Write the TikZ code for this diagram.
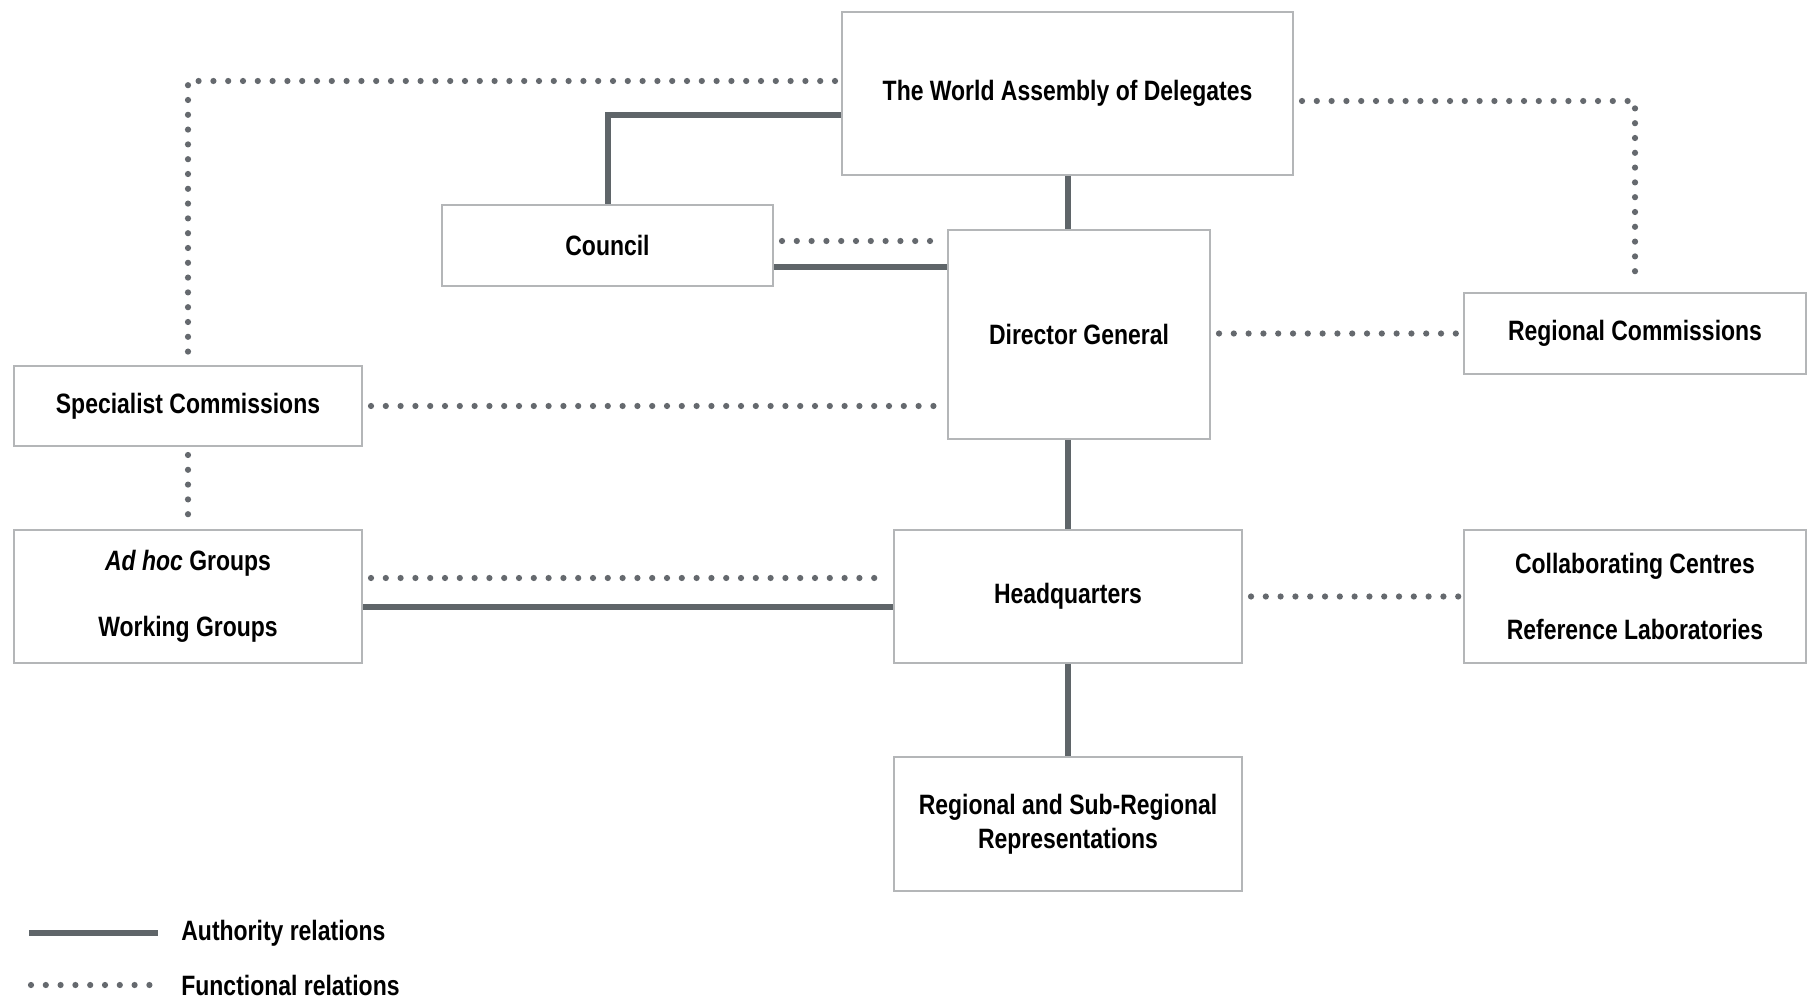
\documentclass[tikz,border=0pt]{standalone}
\usepackage{fontspec}
\setmainfont{Liberation Sans}[FakeStretch=0.82]
\definecolor{linegray}{HTML}{5F6569}
\definecolor{dotgray}{HTML}{65696E}
\definecolor{boxgray}{HTML}{B4B6B8}

\begin{document}
\begin{tikzpicture}[x=0.5pt,y=-0.5pt,
  box/.style={draw=boxgray,line width=1pt,fill=white,inner sep=0pt,align=center,
    font=\fontsize{14pt}{16.8pt}\selectfont\bfseries},
  auth/.style={draw=linegray,line width=3pt},
  func/.style={draw=dotgray,line width=3.1pt,line cap=round,dash pattern=on 0pt off 7.4pt},
  legend/.style={anchor=west,inner sep=0pt,font=\fontsize{14pt}{16.8pt}\selectfont\bfseries}]
\useasboundingbox[fill=white] (0,0) rectangle (1807,999);

\node[box,minimum width=225.5pt,minimum height=81.5pt] (wad) at (1067.5,93.5) {The World Assembly of Delegates};
\node[box,minimum width=165.5pt,minimum height=40.5pt] (council) at (607.5,245.5) {Council};
\node[box,minimum width=131pt,minimum height=104.5pt] (dg) at (1079,334.5) {Director General};
\node[box,minimum width=171pt,minimum height=40.5pt] (regcom) at (1635,333.5) {Regional Commissions};
\node[box,minimum width=174pt,minimum height=40pt] (spec) at (188,406) {Specialist Commissions};
\node[box,minimum width=174pt,minimum height=66.5pt] (adhoc) at (188,596.5) {\textit{Ad hoc} Groups\\[16pt]Working Groups};
\node[box,minimum width=174pt,minimum height=66.5pt] (hq) at (1068,596.5) {Headquarters};
\node[box,minimum width=171pt,minimum height=66.5pt] (collab) at (1635,596.5) {Collaborating Centres\\[16pt]Reference Laboratories};
\node[box,minimum width=174pt,minimum height=67pt] (regrep) at (1068,824) {Regional and Sub-Regional\\Representations};

% authority relations
\draw[auth] ([yshift=-10.75pt]wad.west) -| (council.north);
\draw[auth] (wad.south) -- (wad.south |- dg.north);
\draw[auth] ([yshift=-10.75pt]council.east) coordinate (c2) -- (c2 -| dg.west);
\draw[auth] (hq.north |- dg.south) -- (hq.north);
\draw[auth] ([yshift=-5.25pt]adhoc.east) coordinate (a2) -- (a2 -| hq.west);
\draw[auth] (hq.south) -- (regrep.north);

% functional relations
\draw[func,shorten >=4pt] ([yshift=6.25pt,xshift=-3pt]wad.west) -| (spec.north);
\draw[func,shorten <=4pt,shorten >=4pt] ([yshift=-3.75pt]wad.east) -| (regcom.north);
\draw[func,shorten <=4pt,shorten >=4pt] ([yshift=2.25pt]council.east) coordinate (c1) -- (c1 -| dg.west);
\draw[func,shorten <=4pt,shorten >=1pt] (dg.east |- regcom.west) -- (regcom.west);
\draw[func,shorten <=4pt,shorten >=2pt] (spec.east) -- (spec.east -| dg.west);
\draw[func,shorten <=4pt,shorten >=4pt] (spec.south) -- (adhoc.north);
\draw[func,shorten <=4pt,shorten >=4pt] ([yshift=9.25pt]adhoc.east) coordinate (a1) -- (a1 -| hq.west);
\draw[func,shorten <=4pt,shorten >=2pt] (hq.east) -- (collab.west);

% legend
\node[legend] (authtxt) at (181,933) {Authority relations};
\node[legend] (functxt) at (181,985) {Functional relations};
\coordinate (authkey) at (29,933);
\coordinate (funckey) at (31,985);
\draw[auth] (authkey) -- ([xshift=-11.5pt]authtxt.west);
\draw[func] (funckey) -- ([xshift=-10.5pt]functxt.west);
\end{tikzpicture}
\end{document}
